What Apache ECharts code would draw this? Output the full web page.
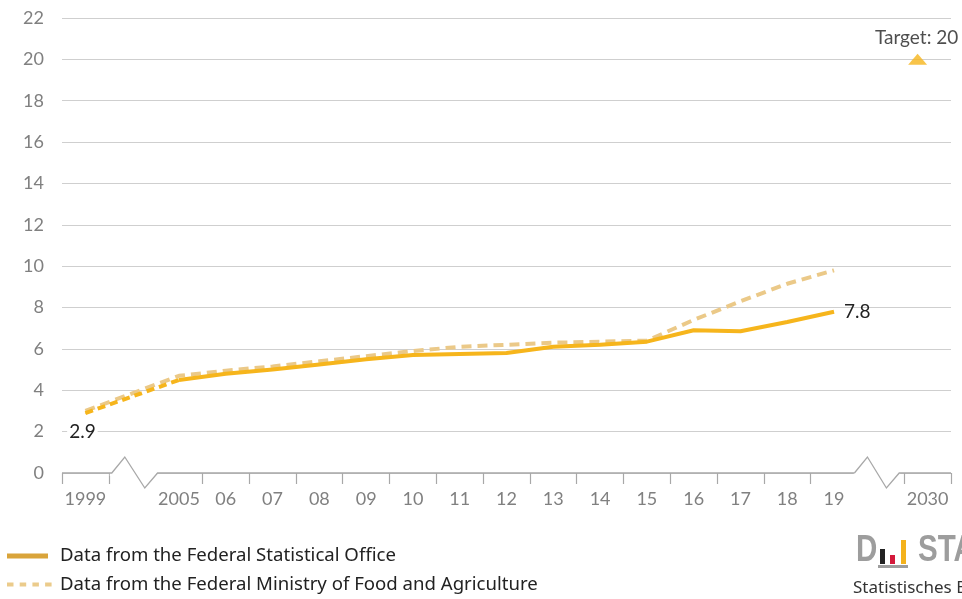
<!DOCTYPE html>
<html>
<head>
<meta charset="utf-8">
<script src="https://cdn.jsdelivr.net/npm/echarts@6/dist/echarts.min.js"></script>
<style>
html,body{margin:0;padding:0;background:#fff;}
#chart{width:962px;height:599px;}
</style>
</head>
<body>
<div id="chart"></div>
<script>
// Categories ('' = axis break slot)
var categories = ['1999','','2005','06','07','08','09','10','11','12','13','14','15','16','17','18','19','','2030'];
var yTicks = [0,2,4,6,8,10,12,14,16,18,20,22];
// Federal Statistical Office (%)
var statOffice = [2.9,null,4.5,4.8,5.0,5.25,5.5,5.7,5.75,5.8,6.1,6.2,6.35,6.9,6.85,7.3,7.8,null,null];
// Federal Ministry of Food and Agriculture (%)
var ministry = [3.0,null,4.7,4.95,5.15,5.4,5.65,5.9,6.1,6.2,6.3,6.35,6.4,7.4,8.3,9.15,9.8,null,null];
// Target
var target = [null,null,null,null,null,null,null,null,null,null,null,null,null,null,null,null,null,null,20];
var legendNames = ['Data from the Federal Statistical Office','Data from the Federal Ministry of Food and Agriculture'];

var statBreakPart = statOffice.map(function(v,i){ return (i<=2) ? v : null; });
var statMainPart = statOffice.map(function(v,i){ return (i>=2) ? v : null; });

var FONT = 'Lato';
var chart = echarts.init(document.getElementById('chart'));
var option = {
  animation:false,
  backgroundColor:'#ffffff',
  textStyle:{fontFamily:FONT},
  grid:{left:62,right:11,top:18,bottom:126,containLabel:false},
  xAxis:{
    type:'category', data:categories, boundaryGap:true,
    axisLine:{show:false},
    axisTick:{show:true,length:11,lineStyle:{color:'#a8a8a8',width:1.2},
      interval:function(i){ return i!==2 && i!==17; }},
    axisLabel:{interval:0,fontSize:18,color:'#808080',margin:17,fontFamily:FONT},
    splitLine:{show:false}
  },
  yAxis:{
    type:'value', min:0, max:22, interval:2,
    axisLine:{show:false}, axisTick:{show:false},
    axisLabel:{fontSize:18,color:'#808080',margin:18,fontFamily:FONT},
    splitLine:{lineStyle:{color:'#cfcfcf',width:1.2}}
  },
  series:[
    {
      name:legendNames[1], type:'line', data:ministry,
      connectNulls:true, symbol:'none', z:2,
      lineStyle:{color:'#EBC988',width:4,type:[10,6]},
      itemStyle:{color:'#EBC988'}
    },
    {
      name:legendNames[0], type:'line', data:statMainPart,
      symbol:'none', z:3,
      lineStyle:{color:'#F6B51C',width:4},
      itemStyle:{color:'#D9A43A'},
      endLabel:{show:true,formatter:function(p){return String(p.value);},fontSize:19,color:'#222',distance:10,fontFamily:FONT}
    },
    {
      name:'statBreak', type:'line', data:statBreakPart, connectNulls:true,
      symbol:'circle', symbolSize:1, showSymbol:true, z:3,
      lineStyle:{color:'#F6B51C',width:4,type:[8,5]},
      itemStyle:{color:'#F6B51C'},
      label:{show:true,position:'bottom',distance:9,offset:[-3,0],fontSize:19,color:'#222',fontFamily:FONT,
        backgroundColor:'#ffffff',padding:[0,2],
        formatter:function(p){ return p.dataIndex===0 ? String(p.value) : ''; }}
    },
    {
      name:'Target', type:'scatter', data:target, symbol:'triangle', symbolSize:[19,11],
      symbolOffset:[-10,0], z:4,
      itemStyle:{color:'#F6B51C'},
      label:{show:true,position:'top',distance:6,offset:[-1,0],fontSize:19,color:'#222',fontFamily:FONT,
        formatter:function(p){return 'Target: ' + p.value;}}
    }
  ]
};
chart.setOption(option);

// axis line with break zigzags, legend and logo
function buildGraphics(){
  var y0 = chart.convertToPixel({yAxisIndex:0},0);
  var c0 = chart.convertToPixel({xAxisIndex:0},0);
  var c1 = chart.convertToPixel({xAxisIndex:0},1);
  var bw = c1 - c0;
  var left = c0 - bw/2;
  var cR = chart.convertToPixel({xAxisIndex:0},17);
  var right = chart.convertToPixel({xAxisIndex:0},18) + bw/2;
  var lb = c1 - bw/2, le = c1 + bw/2;
  var rb = cR - bw/2, re = cR + bw/2;
  var col = '#a8a8a8';
  var pts1 = [[left,y0],[lb+3,y0],[lb+16,y0-16],[lb+36,y0+15],[le+2,y0],[rb-3,y0]];
  var pts2 = [[rb-3,y0],[rb+10,y0-16],[rb+29,y0+15],[re-5,y0],[right,y0]];
  var g = [
    {type:'rect',z:50,shape:{x:lb+1,y:y0-3,width:bw,height:6},style:{fill:'#fff'}},
    {type:'rect',z:50,shape:{x:rb-4,y:y0-3,width:bw,height:6},style:{fill:'#fff'}},
    {type:'polyline',z:51,shape:{points:pts1},style:{stroke:col,lineWidth:1.3,fill:null}},
    {type:'polyline',z:51,shape:{points:pts2},style:{stroke:col,lineWidth:1.3,fill:null}},
    // legend
    {type:'rect',z:60,shape:{x:7,y:553.5,width:41,height:5},style:{fill:'#D9A43A'}},
    {type:'text',z:60,x:60,y:556,style:{text:legendNames[0],font:'18.6px "Noto Sans"',fill:'#222',textVerticalAlign:'middle'}},
    {type:'text',z:60,x:60,y:585,style:{text:legendNames[1],font:'18.6px "Noto Sans"',fill:'#222',textVerticalAlign:'middle'}},
    // logo
    {type:'text',z:60,left:856,top:533,style:{text:'D',font:'bold 36px "Liberation Sans"',fill:'#9d9d9d'},scaleX:0.82},
    {type:'rect',z:60,shape:{x:880,y:549,width:5,height:15},style:{fill:'#222'}},
    {type:'rect',z:60,shape:{x:890,y:555,width:5,height:9},style:{fill:'#d4193b'}},
    {type:'rect',z:60,shape:{x:901,y:540,width:5,height:24},style:{fill:'#f4b21c'}},
    {type:'rect',z:60,shape:{x:878,y:565,width:30,height:3},style:{fill:'#9d9d9d'}},
    {type:'text',z:60,left:918,top:533,style:{text:'STATIS',font:'bold 36px "Liberation Sans"',fill:'#9d9d9d'},scaleX:0.82},
    {type:'text',z:60,left:853,top:580,style:{text:'Statistisches Bundesamt',font:'17px "Noto Sans"',fill:'#333'}}
  ];
  for (var k=0;k<4;k++){
    g.push({type:'rect',z:60,shape:{x:7+k*12.7,y:582.5,width:6.5,height:4},style:{fill:'#EBCB8B'}});
  }
  chart.setOption({graphic:g});
}
buildGraphics();
</script>
</body>
</html>
